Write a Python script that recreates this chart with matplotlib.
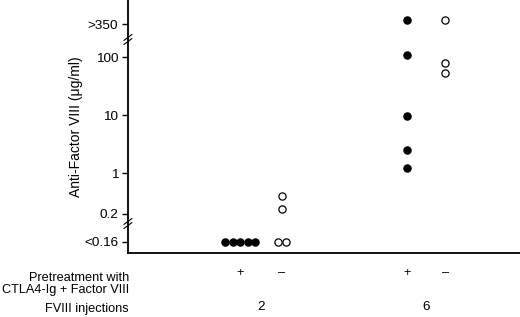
import numpy as np
import matplotlib
matplotlib.use("Agg")
import matplotlib.pyplot as plt

plt.rcParams["font.family"] = ["Liberation Sans", "DejaVu Sans"]

# ============================
# Data (anti-FVIII titres, ug/ml)
# None -> below detection (<0.16), inf -> above 350
# ============================
groups = ["2 +", "2 -", "6 +", "6 -"]
pretreat_labels = ["+", "\u2013", "+", "\u2013"]
injection_labels = ["2", "6"]
filled = [True, False, True, False]

titres_2_plus = [None, None, None, None, None]
titres_2_minus = [None, None, 0.24, 0.40]
titres_6_plus = [1.2, 2.5, 9.8, 110, np.inf]
titres_6_minus = [53, 79, np.inf]
all_titres = [titres_2_plus, titres_2_minus, titres_6_plus, titres_6_minus]

ytick_labels = ["<0.16", "0.2", "1", "10", "100", ">350"]

# plotting positions for the off-scale values (log axis)
LOW_POS = 0.065
HIGH_POS = 370
HIGH_PT = 430

group_x = [2.86, 3.93, 7.12, 8.09]
FS = 9.7
FS_ROW = 9.2


def ypos(v):
    if v is None:
        return LOW_POS
    if np.isinf(v):
        return HIGH_PT
    return v


fig = plt.figure(figsize=(5.2, 3.17), dpi=100)
ax = fig.add_axes([0.246, 0.202, 0.754, 0.798])
ax.set_yscale("log")
ax.set_ylim(0.042, 960)
ax.set_xlim(0, 10)

for gx, vals, is_filled in zip(group_x, all_titres, filled):
    ys = np.array([ypos(v) for v in vals], dtype=float)
    xs = np.full(len(ys), gx)
    # spread the undetectable values side by side
    low = ys == LOW_POS
    n = low.sum()
    if n:
        xs[low] = gx + (np.arange(n) - (n - 1) / 2) * 0.19
    ax.plot(xs, ys, "o", ms=5.2, mec="black", mew=0.9,
            mfc="black" if is_filled else "white", ls="none", clip_on=False)

# y ticks
tick_pos = [LOW_POS, 0.2, 1, 10, 100, HIGH_POS]
ax.set_yticks(tick_pos)
ax.set_yticklabels(ytick_labels, fontsize=FS)
ax.yaxis.set_minor_locator(matplotlib.ticker.NullLocator())
ax.tick_params(axis="y", direction="out", length=4, width=1, pad=3)
ax.set_xticks([])

for s in ["top", "right"]:
    ax.spines[s].set_visible(False)
ax.spines["left"].set_linewidth(1.3)
ax.spines["bottom"].set_linewidth(1.3)

ax.set_ylabel("Anti-Factor VIII (\u03bcg/ml)", fontsize=10, labelpad=1)

# axis breaks
for yb in [200, 0.135]:
    for dy in [-0.035, 0.035]:
        y0 = yb * 10 ** (dy - 0.05)
        y1 = yb * 10 ** (dy + 0.05)
        ax.plot([-0.1, 0.1], [y0, y1], color="black", lw=0.8, clip_on=False)

# row labels under the axis
fig.text(0.248, 0.104, "Pretreatment with\nCTLA4-Ig + Factor VIII",
         ha="right", va="center", fontsize=FS_ROW, linespacing=1.0)
fig.text(0.248, 0.025, "FVIII injections", ha="right", va="center", fontsize=FS_ROW)

trans = matplotlib.transforms.blended_transform_factory(ax.transData, fig.transFigure)
for gx, lab in zip(group_x, pretreat_labels):
    ax.text(gx, 0.138, lab, transform=trans, ha="center", va="center", fontsize=FS_ROW)
for i, lab in enumerate(injection_labels):
    cx = (group_x[2 * i] + group_x[2 * i + 1]) / 2
    ax.text(cx, 0.03, lab, transform=trans, ha="center", va="center", fontsize=FS)

fig.savefig("out.png", dpi=100)
